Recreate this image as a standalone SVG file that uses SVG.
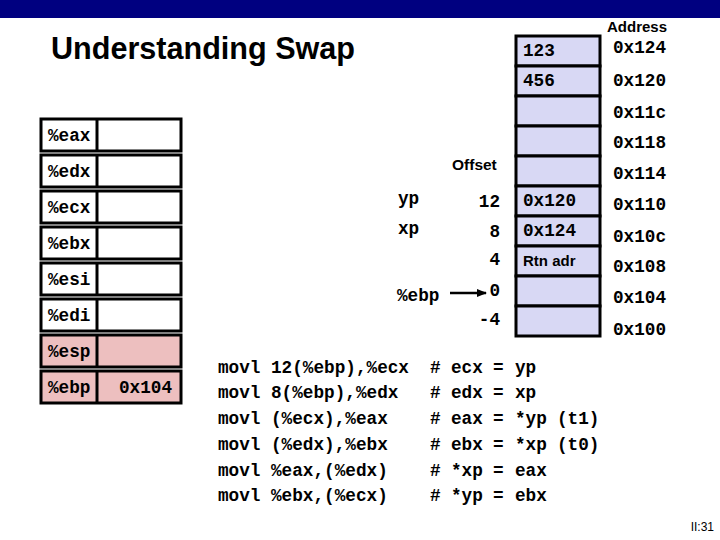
<svg xmlns="http://www.w3.org/2000/svg" width="720" height="540" viewBox="0 0 720 540">
<style>
.mono{font-family:"Liberation Mono","Courier New",monospace;font-weight:bold;font-size:17.7px;fill:#000}
.sans{font-family:"Liberation Sans",Arial,sans-serif;font-weight:bold;fill:#000}
.reg{fill:#fff;stroke:#000;stroke-width:3}
.regp{fill:#EDBFBF;stroke:#000;stroke-width:3}
.cell{fill:#D8D8F4;stroke:#000;stroke-width:3}
.div{stroke:#000;stroke-width:3}
</style>
<defs>
<marker id="ah" viewBox="0 0 10 10" refX="9" refY="5" markerWidth="10" markerHeight="10" markerUnits="userSpaceOnUse" orient="auto">
<path d="M0,1 L10,5 L0,9 Z" fill="#000"/>
</marker>
</defs>
<rect x="0" y="0" width="720" height="540" fill="#fff"/>
<rect x="0" y="0" width="720" height="18" fill="#000080"/>
<text x="51" y="59" class="sans" font-size="31" textLength="304" lengthAdjust="spacingAndGlyphs">Understanding Swap</text>

<g id="registers">
<g id="reg-eax"><rect class="reg" x="41" y="119" width="140" height="32"/><line class="div" x1="97" y1="119" x2="97" y2="151"/><text class="mono" x="48" y="141">%eax</text></g>
<g id="reg-edx"><rect class="reg" x="41" y="155" width="140" height="32"/><line class="div" x1="97" y1="155" x2="97" y2="187"/><text class="mono" x="48" y="177">%edx</text></g>
<g id="reg-ecx"><rect class="reg" x="41" y="191" width="140" height="32"/><line class="div" x1="97" y1="191" x2="97" y2="223"/><text class="mono" x="48" y="213">%ecx</text></g>
<g id="reg-ebx"><rect class="reg" x="41" y="227" width="140" height="32"/><line class="div" x1="97" y1="227" x2="97" y2="259"/><text class="mono" x="48" y="249">%ebx</text></g>
<g id="reg-esi"><rect class="reg" x="41" y="263" width="140" height="32"/><line class="div" x1="97" y1="263" x2="97" y2="295"/><text class="mono" x="48" y="285">%esi</text></g>
<g id="reg-edi"><rect class="reg" x="41" y="299" width="140" height="32"/><line class="div" x1="97" y1="299" x2="97" y2="331"/><text class="mono" x="48" y="321">%edi</text></g>
<g id="reg-esp"><rect class="regp" x="41" y="335" width="140" height="32"/><line class="div" x1="97" y1="335" x2="97" y2="367"/><text class="mono" x="48" y="357">%esp</text></g>
<g id="reg-ebp"><rect class="regp" x="41" y="371" width="140" height="32"/><line class="div" x1="97" y1="371" x2="97" y2="403"/><text class="mono" x="48" y="393">%ebp</text><text class="mono" x="119" y="393">0x104</text></g>
</g>

<g id="stack">
<g id="cell-124"><rect class="cell" x="516" y="36" width="84" height="30"/><text class="mono" x="523" y="56">123</text></g>
<g id="cell-120"><rect class="cell" x="516" y="66" width="84" height="30"/><text class="mono" x="523" y="86">456</text></g>
<g id="cell-11c"><rect class="cell" x="516" y="96" width="84" height="30"/></g>
<g id="cell-118"><rect class="cell" x="516" y="126" width="84" height="30"/></g>
<g id="cell-114"><rect class="cell" x="516" y="156" width="84" height="30"/></g>
<g id="cell-110"><rect class="cell" x="516" y="186" width="84" height="30"/><text class="mono" x="523" y="206">0x120</text></g>
<g id="cell-10c"><rect class="cell" x="516" y="216" width="84" height="30"/><text class="mono" x="523" y="236">0x124</text></g>
<g id="cell-108"><rect class="cell" x="516" y="246" width="84" height="30"/><text class="sans" font-size="15" x="523" y="266">Rtn adr</text></g>
<g id="cell-104"><rect class="cell" x="516" y="276" width="84" height="30"/></g>
<g id="cell-100"><rect class="cell" x="516" y="306" width="84" height="30"/></g>
</g>

<g id="addresses">
<text class="sans" font-size="15" x="607" y="32">Address</text>
<text class="mono" x="613" y="53">0x124</text>
<text class="mono" x="613" y="86">0x120</text>
<text class="mono" x="613" y="118">0x11c</text>
<text class="mono" x="613" y="148">0x118</text>
<text class="mono" x="613" y="179">0x114</text>
<text class="mono" x="613" y="210">0x110</text>
<text class="mono" x="613" y="242">0x10c</text>
<text class="mono" x="613" y="272">0x108</text>
<text class="mono" x="613" y="303">0x104</text>
<text class="mono" x="613" y="335">0x100</text>
</g>

<g id="offsets">
<text class="sans" font-size="15.5" x="452" y="170">Offset</text>
<text class="mono" x="500" y="207" text-anchor="end">12</text>
<text class="mono" x="500" y="237" text-anchor="end">8</text>
<text class="mono" x="500" y="265" text-anchor="end">4</text>
<text class="mono" x="500" y="296" text-anchor="end">0</text>
<text class="mono" x="500" y="325" text-anchor="end">-4</text>
<text class="mono" x="398" y="204">yp</text>
<text class="mono" x="398" y="234">xp</text>
<text class="mono" x="397" y="301">%ebp</text>
</g>

<g id="connectors">
<line x1="450" y1="293" x2="486" y2="293" stroke="#000" stroke-width="2.5" marker-end="url(#ah)"/>
</g>

<g id="code">
<text class="mono" x="218" y="373">movl</text><text class="mono" x="271" y="373">12(%ebp),%ecx</text><text class="mono" x="430" y="373">#</text><text class="mono" x="451" y="373">ecx</text><text class="mono" x="493" y="373">=</text><text class="mono" x="515" y="373">yp</text>
<text class="mono" x="218" y="398">movl</text><text class="mono" x="271" y="398">8(%ebp),%edx</text><text class="mono" x="430" y="398">#</text><text class="mono" x="451" y="398">edx</text><text class="mono" x="493" y="398">=</text><text class="mono" x="515" y="398">xp</text>
<text class="mono" x="218" y="424">movl</text><text class="mono" x="271" y="424">(%ecx),%eax</text><text class="mono" x="430" y="424">#</text><text class="mono" x="451" y="424">eax</text><text class="mono" x="493" y="424">=</text><text class="mono" x="515" y="424">*yp</text><text class="mono" x="557" y="424">(t1)</text>
<text class="mono" x="218" y="450">movl</text><text class="mono" x="271" y="450">(%edx),%ebx</text><text class="mono" x="430" y="450">#</text><text class="mono" x="451" y="450">ebx</text><text class="mono" x="493" y="450">=</text><text class="mono" x="515" y="450">*xp</text><text class="mono" x="557" y="450">(t0)</text>
<text class="mono" x="218" y="476">movl</text><text class="mono" x="271" y="476">%eax,(%edx)</text><text class="mono" x="430" y="476">#</text><text class="mono" x="451" y="476">*xp</text><text class="mono" x="493" y="476">=</text><text class="mono" x="515" y="476">eax</text>
<text class="mono" x="218" y="501">movl</text><text class="mono" x="271" y="501">%ebx,(%ecx)</text><text class="mono" x="430" y="501">#</text><text class="mono" x="451" y="501">*yp</text><text class="mono" x="493" y="501">=</text><text class="mono" x="515" y="501">ebx</text>
</g>

<text x="714" y="531" font-family="Liberation Sans,Arial,sans-serif" font-size="12" text-anchor="end" fill="#000">II:31</text>
</svg>
